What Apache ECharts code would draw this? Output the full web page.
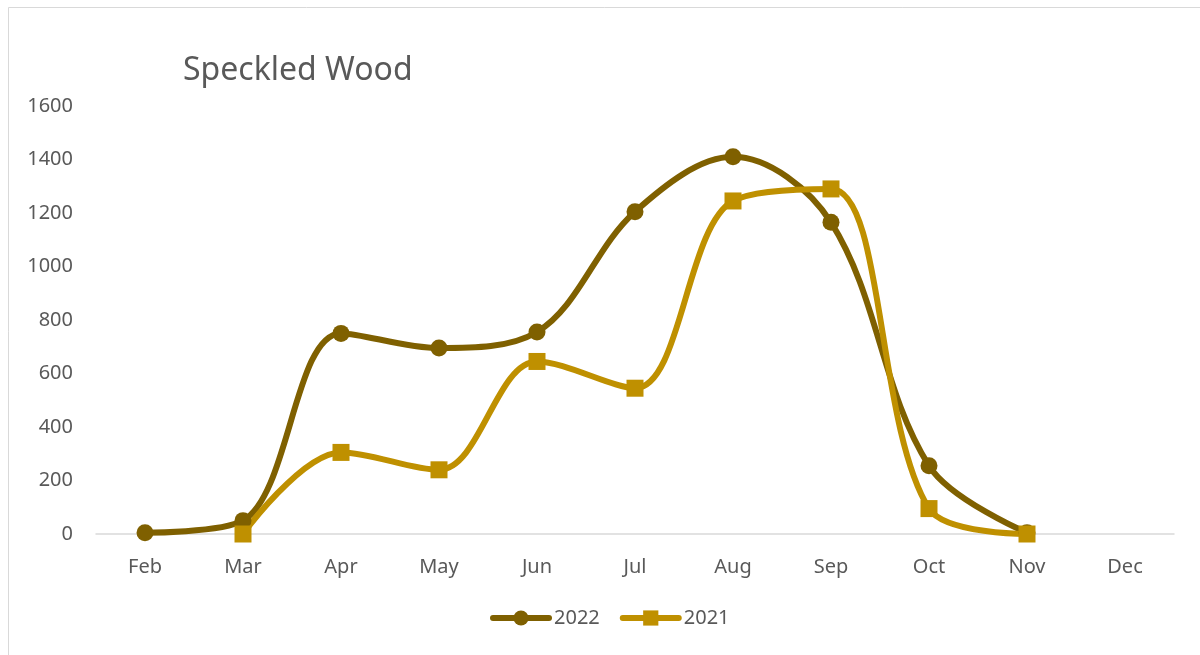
<!DOCTYPE html>
<html><head><meta charset="utf-8">
<script src="https://cdn.jsdelivr.net/npm/echarts@6/dist/echarts.min.js"></script>
<style>html,body{margin:0;padding:0;background:#fff}#c{width:1200px;height:655px}</style>
</head><body><div id="c"></div>
<script>
const categories = ['Feb','Mar','Apr','May','Jun','Jul','Aug','Sep','Oct','Nov','Dec'];
const s2022 = [5, 50, 750, 695, 755, 1205, 1410, 1165, 255, 5, null];
const s2021 = [null, 0, 305, 240, 645, 545, 1245, 1290, 95, 0, null];
const FONT = 'Noto Sans';
const chart = echarts.init(document.getElementById('c'), null, {renderer:'canvas'});
chart.setOption({
  animation:false,
  backgroundColor:'#fff',
  graphic:[{type:'rect',shape:{x:8.5,y:7.5,width:1200,height:700},style:{fill:'none',stroke:'#d9d9d9',lineWidth:1},silent:true}],
  title:{text:'Speckled Wood',left:178,top:50,textStyle:{fontFamily:FONT,fontSize:32,fontWeight:'normal',color:'#595959'}},
  grid:{left:96,right:26,top:106,bottom:121,containLabel:false},
  legend:{bottom:22,left:485,itemWidth:56,itemHeight:19,itemGap:20,
    lineStyle:{width:6,cap:'round'},
    textStyle:{fontFamily:FONT,fontSize:20,color:'#595959'},data:['2022','2021']},
  xAxis:{type:'category',data:categories,boundaryGap:true,
    axisLine:{lineStyle:{color:'#d9d9d9',width:1.5}},axisTick:{show:false},
    axisLabel:{fontFamily:FONT,fontSize:20,color:'#595959',margin:23}},
  yAxis:{type:'value',min:0,max:1600,interval:200,
    axisLine:{show:false},axisTick:{show:false},splitLine:{show:false},
    axisLabel:{fontFamily:FONT,fontSize:20,color:'#595959',margin:23,formatter:v=>String(v)}},
  series:[
    {name:'2022',type:'line',data:s2022,smooth:0.35,symbol:'circle',symbolSize:17,
     lineStyle:{color:'#7f6000',width:6,cap:'round'},itemStyle:{color:'#7f6000'}},
    {name:'2021',type:'line',data:s2021,smooth:0.35,symbol:'rect',symbolSize:17,
     lineStyle:{color:'#bf9000',width:6,cap:'round'},itemStyle:{color:'#bf9000'}}
  ]
});
</script></body></html>
